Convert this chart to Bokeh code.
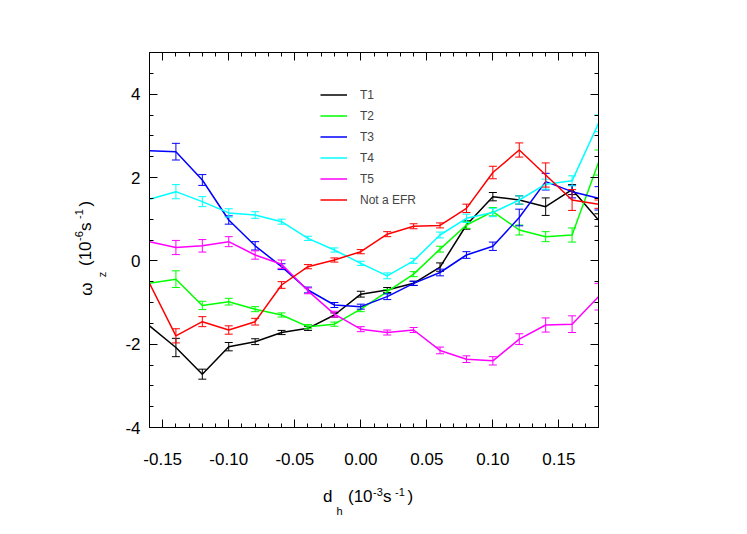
import numpy as np
from bokeh.plotting import figure
from bokeh.models import (LinearAxis, FixedTicker, Range1d, Legend, LegendItem,
                          ColumnDataSource)
from bokeh.embed import file_html
from bokeh.resources import INLINE

nan = float("nan")

# ---------------- data ----------------
dh = [-0.16, -0.14, -0.12, -0.10, -0.08, -0.06, -0.04, -0.02, 0.00,
      0.02, 0.04, 0.06, 0.08, 0.10, 0.12, 0.14, 0.16, 0.18]

T1 = [-1.56, -2.08, -2.72, -2.06, -1.94, -1.72, -1.62, -1.30, -0.80,
      -0.70, -0.54, -0.15, 0.86, 1.54, 1.46, 1.30, 1.71, 0.98]
T1_err = [nan, 0.22, 0.12, 0.10, 0.07, 0.05, 0.05, 0.05, 0.07,
          0.06, 0.05, 0.10, 0.10, 0.10, 0.10, 0.21, 0.12, 0.15]

T2 = [-0.54, -0.44, -1.07, -0.98, -1.16, -1.30, -1.58, -1.52, -1.16,
      -0.74, -0.32, 0.28, 0.86, 1.18, 0.74, 0.58, 0.62, 2.36]
T2_err = [nan, 0.20, 0.10, 0.08, 0.06, 0.05, 0.05, 0.05, 0.06,
          0.05, 0.06, 0.07, 0.08, 0.10, 0.12, 0.12, 0.17, 0.30]

T3 = [2.64, 2.62, 1.94, 0.98, 0.36, -0.14, -0.70, -1.06, -1.10,
      -0.86, -0.54, -0.28, 0.14, 0.35, 1.04, 1.90, 1.66, 1.50]
T3_err = [nan, 0.20, 0.13, 0.10, 0.10, 0.07, 0.07, 0.06, 0.06,
          0.07, 0.05, 0.08, 0.08, 0.10, 0.20, 0.20, 0.15, 0.28]

T4 = [1.48, 1.66, 1.42, 1.15, 1.10, 0.94, 0.54, 0.26, -0.06,
      -0.36, 0.00, 0.62, 1.02, 1.16, 1.46, 1.84, 1.92, 3.30]
T4_err = [nan, 0.17, 0.12, 0.10, 0.08, 0.06, 0.05, 0.05, 0.05,
          0.07, 0.06, 0.07, 0.10, 0.10, 0.10, 0.12, 0.12, 0.20]

T5 = [0.46, 0.32, 0.36, 0.46, 0.14, -0.08, -0.72, -1.28, -1.64,
      -1.72, -1.66, -2.15, -2.36, -2.40, -1.88, -1.54, -1.52, -0.86]
T5_err = [nan, 0.17, 0.15, 0.12, 0.10, 0.10, 0.07, 0.07, 0.06,
          0.06, 0.06, 0.08, 0.08, 0.10, 0.13, 0.17, 0.20, 0.32]

NotEFR = [-0.54, -1.80, -1.46, -1.66, -1.46, -0.58, -0.14, 0.02, 0.22,
          0.64, 0.83, 0.85, 1.26, 2.12, 2.66, 2.06, 1.46, 1.36]
NotEFR_err = [nan, 0.17, 0.12, 0.10, 0.08, 0.08, 0.05, 0.05, 0.05,
              0.06, 0.06, 0.06, 0.10, 0.15, 0.17, 0.29, 0.25, 0.10]

series_names = ["T1", "T2", "T3", "T4", "T5", "Not a EFR"]
series_values = [T1, T2, T3, T4, T5, NotEFR]
series_errors = [T1_err, T2_err, T3_err, T4_err, T5_err, NotEFR_err]
series_colors = ["#000000", "#00FF00", "#0000FF", "#00FFFF", "#FF00FF", "#FF0000"]

x_ticks = [-0.15, -0.10, -0.05, 0.00, 0.05, 0.10, 0.15]
x_tick_labels = ["-0.15", "-0.10", "-0.05", "0.00", "0.05", "0.10", "0.15"]
y_ticks = [-4, -2, 0, 2, 4]
y_tick_labels = ["-4", "-2", "0", "2", "4"]

# axis titles, split into normal / superscript / subscript pieces
x_title_main = ["d", "(10", "s", ")"]
x_title_sup = ["-3", "-1"]
x_title_sub = ["h"]
y_title_main = ["\u03c9", "(10", "s", ")"]
y_title_sup = ["-6", "-1"]
y_title_sub = ["z"]

XR = (-0.16, 0.18)
YR = (-4.0, 5.0)
x_minor = [round(XR[0] + 0.01 * i, 2) for i in range(35)]
y_minor = [YR[0] + 0.5 * i for i in range(19)]

FONT = "Liberation Sans"

# frame placement (page pixels)
FL, FT, FW, FH = 149, 52, 449, 375
W, H = 739, 526

# ---------------- figure ----------------
p = figure(width=W, height=H, x_range=Range1d(*XR), y_range=Range1d(*YR),
           output_backend="svg", toolbar_location=None,
           min_border_left=FL, min_border_right=W - FL - FW,
           min_border_top=FT, min_border_bottom=H - FT - FH)
p.outline_line_color = None
p.xgrid.visible = False
p.ygrid.visible = False
p.background_fill_color = "white"
p.border_fill_color = "white"


def style_axis(ax, ticks, minor, overrides, show_labels, standoff):
    ax.ticker = FixedTicker(ticks=ticks, minor_ticks=minor)
    ax.major_label_overrides = {t: s for t, s in zip(ticks, overrides)}
    ax.major_tick_in = 8
    ax.major_tick_out = 0
    ax.minor_tick_in = 4
    ax.minor_tick_out = 0
    ax.axis_line_color = "black"
    ax.axis_line_width = 1
    ax.major_tick_line_color = "black"
    ax.minor_tick_line_color = "black"
    ax.major_label_text_font = FONT
    ax.major_label_text_color = "black"
    ax.major_label_standoff = standoff
    if show_labels:
        ax.major_label_text_font_size = "17px"
    else:
        ax.major_label_text_font_size = "0px"
        ax.major_label_text_alpha = 0


style_axis(p.xaxis[0], x_ticks, x_minor, x_tick_labels, True, 25)
style_axis(p.yaxis[0], y_ticks, y_minor, y_tick_labels, True, 9)

top_ax = LinearAxis()
style_axis(top_ax, x_ticks, x_minor, x_tick_labels, False, 0)
p.add_layout(top_ax, "above")
right_ax = LinearAxis()
style_axis(right_ax, y_ticks, y_minor, y_tick_labels, False, 0)
p.add_layout(right_ax, "right")


# ---------------- axis titles: label-only axes stacked in the side panels ----------------
def px_to_x(X):
    return round(XR[0] + (X - FL) * (XR[1] - XR[0]) / FW, 6)


def px_to_y(Y):
    return round(YR[1] - (Y - FT) * (YR[1] - YR[0]) / FH, 6)


def title_axis(side, centers, texts, size, standoff, orient):
    ticks = centers
    ax = LinearAxis(ticker=FixedTicker(ticks=ticks, minor_ticks=[]),
                    major_label_overrides={t: s for t, s in zip(ticks, texts)},
                    major_label_standoff=standoff,
                    major_label_text_font=FONT, major_label_text_font_size=size,
                    major_label_text_color="black",
                    major_label_orientation=orient,
                    axis_line_color=None, major_tick_line_color=None,
                    minor_tick_line_color=None,
                    major_tick_in=0, major_tick_out=0, minor_tick_in=0, minor_tick_out=0)
    p.add_layout(ax, side)


# x title: d_h (10^-3 s^-1)   (centres in page pixels)
title_axis("below", [px_to_x(X) for X in (377.4, 399.4)], x_title_sup, "11px", 20, "horizontal")
title_axis("below", [px_to_x(X) for X in (327.2, 359.8, 386.8, 409.8)], x_title_main, "17px", -12, "horizontal")
title_axis("below", [px_to_x(X) for X in (339.1,)], x_title_sub, "11px", -4, "horizontal")

# y title: omega_z (10^-6 s^-1)
title_axis("left", [px_to_y(Y) for Y in (274.0,)], y_title_sub, "11px", 15, "parallel")
title_axis("left", [px_to_y(Y) for Y in (288.5, 253.2, 226.2, 203.2)], y_title_main, "17px", -3, "parallel")
title_axis("left", [px_to_y(Y) for Y in (235.6, 213.6)], y_title_sup, "11px", -10, "parallel")

# ---------------- series ----------------
legend_items = []
for name, vals, errs, col in zip(series_names, series_values, series_errors, series_colors):
    v = np.array(vals, dtype=float)
    e = np.array(errs, dtype=float)
    src = ColumnDataSource(dict(x=dh, y=v, lo=v - e, hi=v + e))
    p.segment(x0="x", y0="lo", x1="x", y1="hi", source=src, line_color=col, line_width=1)
    p.scatter(x="x", y="lo", source=src, marker="dash", size=8, line_color=col, line_width=1)
    p.scatter(x="x", y="hi", source=src, marker="dash", size=8, line_color=col, line_width=1)
    r = p.line(x="x", y="y", source=src, line_color=col, line_width=1.5)
    legend_items.append(LegendItem(label=name, renderers=[r]))

legend = Legend(items=legend_items, location=(171, 217), orientation="vertical",
                glyph_width=27, glyph_height=21, label_height=21, spacing=0,
                padding=0, margin=0, label_standoff=13,
                label_text_font=FONT, label_text_font_size="12px",
                border_line_color=None, background_fill_alpha=0)
p.add_layout(legend)

open("out.html", "w").write(file_html(p, INLINE))
